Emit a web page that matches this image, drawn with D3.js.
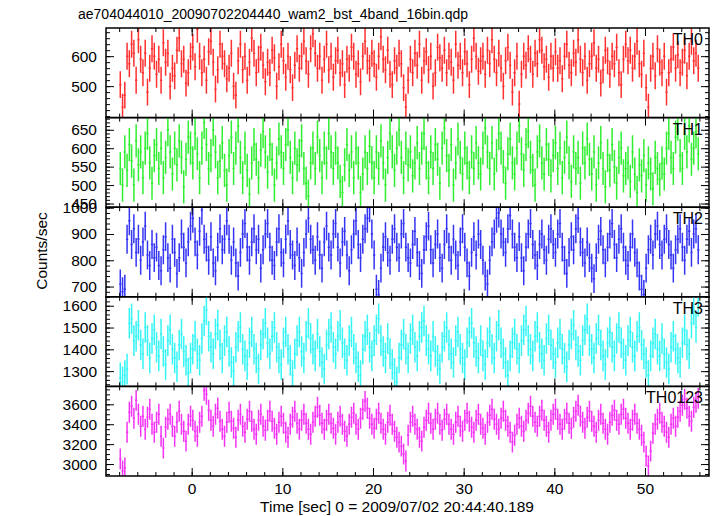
<!DOCTYPE html>
<html><head><meta charset="utf-8">
<script src="https://cdn.jsdelivr.net/npm/d3@7"></script>
<style>body{margin:0;background:#fff}svg{display:block}text{font-family:"Liberation Sans",Arial,sans-serif;fill:#000}</style>
</head><body><svg id="c" width="717" height="516"></svg>
<script>
const titleText = "ae704044010_20090702204440_wam2_bst_4band_16bin.qdp";
const xLabel = "Time [sec] 0 = 2009/07/02 20:44:40.189";
const yLabel = "Counts/sec";
const panelNames = ["TH0","TH1","TH2","TH3","TH0123"];
const panelColors = ["#ff3030","#30ee30","#3434f4","#34f4f4","#f434f4"];
const tStart = -8, tBin = 0.25;
const xTicks = [0,10,20,30,40,50];
const yDomains = [[395,694],[440,683],[661,1002],[1230,1641],[2880,3780]];
const yMajor = [[500,600],[450,500,550,600,650],[700,800,900,1000],[1300,1400,1500,1600],[3000,3200,3400,3600]];
const yMinorStep = [20,10,20,20,50];
const errHalf = [45,45,55,70,105];

const th0 = [
505,430,470,600,575,640,610,520,655,590,545,610,480,560,625,600,
540,590,520,645,580,610,500,560,535,620,660,575,590,510,545,600,
630,565,690,600,545,590,520,615,650,580,490,555,640,600,575,525,
560,610,500,470,585,640,555,600,520,580,660,610,545,590,630,570,
515,580,545,620,595,500,565,640,585,530,600,555,495,570,625,560,
600,650,585,540,625,675,610,560,600,520,590,640,555,600,530,585,
620,545,575,505,590,560,630,600,540,575,515,600,650,585,560,610,
575,530,600,665,590,555,620,540,505,585,560,610,575,495,430,520,
590,545,610,570,640,520,585,615,555,600,500,545,630,595,560,620,
545,600,580,520,640,570,600,545,615,575,505,590,660,600,550,585,
600,540,620,575,655,590,545,610,560,500,585,630,570,480,545,600,
440,540,600,570,625,590,540,610,575,655,620,565,590,530,600,560,
615,560,585,525,600,640,570,545,610,580,655,590,545,600,520,575,
600,645,560,590,510,555,620,585,540,600,575,630,545,505,590,640,
585,620,560,600,650,575,540,610,495,430,560,600,535,625,580,545,
600,480,545,590,630,560,605,545,580,620,535,600,650,585,610,560];
const th1 = [
545,500,590,540,610,565,500,620,555,590,520,600,640,560,505,580,
610,545,600,520,575,650,590,530,600,555,620,575,495,570,630,600,
560,640,585,520,600,670,610,545,580,650,590,520,565,615,540,500,
580,630,545,600,660,575,520,600,540,475,560,610,570,520,595,645,
590,535,610,570,500,560,625,590,545,610,650,575,520,600,555,580,
620,545,505,470,560,600,545,630,580,520,600,560,640,590,545,600,
560,510,480,555,610,540,590,520,600,560,480,530,590,545,605,560,
520,590,545,620,560,500,575,640,590,540,600,650,575,520,600,555,
590,525,560,615,545,600,640,560,520,590,545,610,570,505,600,655,
580,540,610,500,560,625,575,530,600,560,520,590,545,615,560,530,
600,655,590,545,615,530,580,640,600,550,505,585,625,560,530,600,
660,585,540,610,645,575,540,500,590,620,560,530,610,570,525,580,
615,545,600,520,575,630,560,510,590,545,575,505,600,560,625,570,
530,590,500,560,615,545,495,580,540,610,550,505,575,600,525,545,
560,510,590,530,480,555,525,580,500,560,530,490,575,545,515,560,
530,600,640,575,545,630,665,580,545,640,590,660,570,600,645,585];
const th2 = [
710,680,690,880,950,860,920,830,880,800,870,930,820,780,860,810,
850,780,760,840,890,810,770,880,830,750,810,900,850,790,870,930,
960,870,820,910,990,880,850,800,890,790,760,850,920,840,880,950,
880,800,870,790,740,830,900,940,850,800,870,920,840,880,770,840,
900,940,850,800,780,870,920,830,790,880,950,860,820,780,870,810,
750,830,900,960,880,840,800,890,820,770,870,930,850,820,900,940,
850,790,870,910,820,760,840,900,950,860,810,880,920,960,1000,900,
820,690,670,770,850,890,830,800,880,920,850,810,900,940,850,810,
790,860,910,830,780,750,840,890,930,840,790,860,900,810,770,860,
920,850,800,880,820,780,870,920,850,790,740,830,890,820,900,860,
800,740,710,800,870,900,960,980,900,870,830,920,970,900,850,810,
890,810,760,850,900,940,860,820,780,860,900,840,800,880,920,860,
830,900,940,850,800,750,830,890,840,920,960,870,830,790,870,810,
770,730,810,880,910,840,790,850,900,940,860,810,880,920,850,800,
780,850,900,830,790,740,690,670,770,840,880,820,900,930,860,820,
880,920,860,820,770,840,880,920,850,800,880,910,830,900,920,840];
const th3 = [
1270,1250,1280,1310,1520,1540,1440,1460,1510,1420,1380,1500,1440,1360,1450,1490,
1410,1370,1470,1390,1330,1440,1490,1400,1360,1320,1420,1470,1390,1350,1290,1360,
1400,1460,1380,1350,1450,1530,1580,1460,1410,1380,1470,1510,1420,1360,1440,1480,
1390,1340,1300,1410,1460,1500,1400,1370,1330,1430,1480,1400,1360,1310,1420,1470,
1520,1430,1380,1460,1500,1410,1360,1330,1430,1480,1400,1350,1280,1380,1440,1480,
1390,1360,1460,1520,1450,1400,1370,1470,1390,1340,1310,1420,1470,1500,1410,1380,
1460,1510,1430,1380,1350,1440,1480,1400,1360,1320,1280,1400,1460,1490,1410,1370,
1440,1490,1540,1440,1390,1360,1450,1380,1330,1290,1250,1360,1420,1470,1400,1360,
1450,1490,1410,1370,1460,1500,1530,1440,1400,1370,1460,1390,1350,1310,1410,1460,
1500,1420,1380,1340,1440,1480,1400,1360,1330,1430,1480,1520,1430,1390,1360,1440,
1370,1330,1430,1480,1400,1360,1460,1510,1430,1380,1340,1280,1370,1430,1470,1400,
1360,1440,1490,1530,1440,1400,1370,1460,1500,1410,1380,1350,1450,1490,1420,1380,
1340,1430,1470,1400,1360,1320,1420,1470,1510,1420,1390,1350,1440,1490,1540,1440,
1400,1360,1450,1490,1420,1370,1330,1430,1480,1410,1370,1450,1500,1430,1380,1350,
1440,1480,1410,1370,1460,1500,1420,1380,1340,1280,1370,1430,1470,1400,1370,1450,
1380,1340,1310,1410,1460,1400,1360,1340,1430,1490,1420,1380,1520,1580,1500,1620];
const th0123 = [
3050,2930,2960,3320,3520,3580,3460,3640,3500,3380,3480,3350,3470,3550,3400,3320,
3420,3500,3280,3160,3370,3450,3500,3380,3280,3420,3530,3400,3330,3230,3400,3480,
3440,3330,3280,3420,3480,3740,3700,3540,3440,3380,3500,3560,3430,3350,3280,3420,
3520,3430,3360,3270,3440,3500,3380,3320,3450,3530,3430,3350,3300,3440,3500,3380,
3340,3440,3530,3430,3360,3300,3420,3480,3410,3320,3270,3400,3470,3530,3410,3350,
3440,3500,3410,3350,3300,3420,3480,3570,3490,3410,3350,3440,3500,3410,3360,3300,
3420,3480,3400,3330,3280,3400,3470,3510,3400,3350,3460,3550,3630,3560,3460,3400,
3360,3450,3510,3410,3350,3300,3420,3490,3400,3330,3270,3220,3180,3100,3030,3290,
3420,3480,3400,3350,3270,3230,3370,3440,3510,3410,3350,3450,3510,3400,3340,3450,
3500,3400,3350,3300,3420,3480,3380,3330,3440,3510,3430,3370,3320,3440,3500,3400,
3360,3300,3420,3490,3550,3450,3400,3350,3460,3530,3440,3380,3320,3220,3290,3400,
3460,3380,3330,3440,3510,3580,3480,3420,3380,3480,3540,3440,3380,3320,3440,3500,
3550,3450,3400,3350,3450,3510,3410,3360,3470,3530,3590,3480,3420,3360,3470,3530,
3430,3380,3320,3440,3500,3410,3350,3300,3420,3490,3540,3440,3400,3500,3550,3460,
3410,3350,3440,3500,3410,3350,3290,3220,3080,2980,3130,3310,3400,3450,3510,3420,
3380,3320,3270,3400,3460,3380,3470,3530,3590,3650,3560,3480,3430,3570,3620,3660];
const series = [th0, th1, th2, th3, th0123];

const svg = d3.select("#c");
const L = 106, R = 709, T = 28, B = 476;
const ph = (B - T) / 5;
const x = d3.scaleLinear().domain([-9.45, 57.06]).range([L, R]);
const xMinor = d3.range(-8, 57, 2);
const FS = 15.5;

svg.append("text").attr("x", 78).attr("y", 19).attr("font-size", 14).text(titleText);

series.forEach((vals, p) => {
  const top = T + ph * p, bot = top + ph;
  const y = d3.scaleLinear().domain(yDomains[p]).range([bot, top]);
  const g = svg.append("g");
  const clipId = "clip" + p;
  svg.append("clipPath").attr("id", clipId).append("rect")
    .attr("x", L).attr("y", top).attr("width", R - L).attr("height", ph);
  const dg = g.append("g").attr("clip-path", `url(#${clipId})`);
  const col = panelColors[p];
  let path = "";
  vals.forEach((v, i) => {
    const tc = tStart + tBin * (i + 0.5);
    const xc = x(tc), x0 = x(tc - tBin / 2), x1 = x(tc + tBin / 2);
    path += `M${x0},${y(v)}H${x1}M${xc},${y(v - errHalf[p])}V${y(v + errHalf[p])}`;
  });
  dg.append("path").attr("d", path).attr("fill", "none").attr("stroke", col).attr("stroke-width", 1.5);

  const d = yDomains[p];
  const minors = d3.range(Math.ceil(d[0] / yMinorStep[p]) * yMinorStep[p], d[1], yMinorStep[p]);
  g.append("g").attr("transform", `translate(${L},0)`).call(d3.axisLeft(y).tickValues(minors).tickSize(-4).tickFormat(""));
  g.append("g").attr("transform", `translate(${R},0)`).call(d3.axisRight(y).tickValues(minors).tickSize(-4).tickFormat(""));
  g.append("g").attr("transform", `translate(${L},0)`)
    .call(d3.axisLeft(y).tickValues(yMajor[p]).tickSize(-8).tickPadding(9).tickFormat(d3.format("d")));
  g.append("g").attr("transform", `translate(${R},0)`)
    .call(d3.axisRight(y).tickValues(yMajor[p]).tickSize(-8).tickFormat(""));
  g.append("g").attr("transform", `translate(0,${bot})`).call(d3.axisBottom(x).tickValues(xMinor).tickSize(-4).tickFormat(""));
  g.append("g").attr("transform", `translate(0,${top})`).call(d3.axisTop(x).tickValues(xMinor).tickSize(-4).tickFormat(""));
  g.append("g").attr("transform", `translate(0,${bot})`)
    .call(d3.axisBottom(x).tickValues(xTicks).tickSize(-8).tickPadding(7).tickFormat(p === 4 ? d3.format("d") : ""));
  g.append("g").attr("transform", `translate(0,${top})`).call(d3.axisTop(x).tickValues(xTicks).tickSize(-8).tickFormat(""));
  g.selectAll(".domain").remove();
  g.selectAll(".tick line").attr("stroke", "#000").attr("stroke-width", 1);
  g.selectAll(".tick text").attr("font-size", FS).attr("font-family", "Liberation Sans, Arial, sans-serif").attr("fill", "#000");
  g.append("rect").attr("x", L).attr("y", top).attr("width", R - L).attr("height", ph)
    .attr("fill", "none").attr("stroke", "#000").attr("stroke-width", 1.5);
  g.append("text").attr("x", 703).attr("y", top + 17).attr("text-anchor", "end").attr("font-size", 16).text(panelNames[p]);
});

svg.append("text").attr("x", 397).attr("y", 512).attr("text-anchor", "middle").attr("font-size", FS).text(xLabel);
svg.append("text").attr("transform", "translate(47,251) rotate(-90)").attr("text-anchor", "middle").attr("font-size", FS).text(yLabel);
</script></body></html>
